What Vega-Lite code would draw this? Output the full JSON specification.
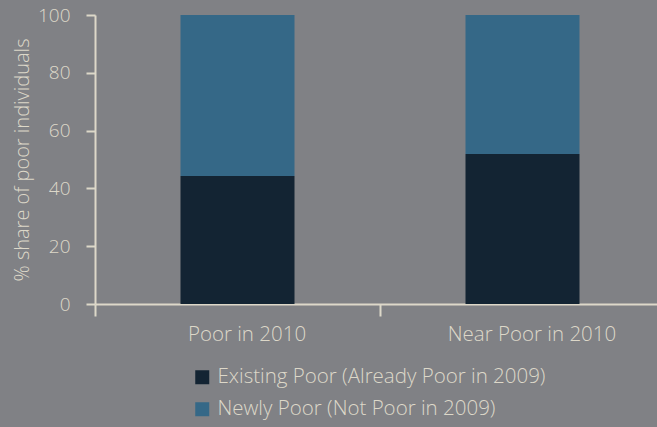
{
  "$schema": "https://vega.github.io/schema/vega-lite/v6.json",
  "autosize": "none",
  "width": 562,
  "height": 289,
  "padding": {"left": 95, "top": 15, "right": 0, "bottom": 123},
  "background": "#808185",
  "config": {
    "view": {"stroke": null},
    "font": "Open Sans",
    "axis": {
      "domainColor": "#ddd8c9",
      "domainWidth": 2,
      "tickColor": "#ddd8c9",
      "tickWidth": 2,
      "labelColor": "#ddd8c9",
      "titleColor": "#ddd8c9",
      "labelFont": "Open Sans",
      "titleFont": "Open Sans",
      "labelFontWeight": 300,
      "titleFontWeight": 300,
      "grid": false
    },
    "legend": {
      "labelColor": "#ddd8c9",
      "labelFont": "Open Sans",
      "labelFontWeight": 300
    }
  },
  "data": {
    "values": [
      {"group": "Poor in 2010", "type": "Existing Poor (Already Poor in 2009)", "value": 44.3, "ord": 1},
      {"group": "Poor in 2010", "type": "Newly Poor (Not Poor in 2009)", "value": 55.7, "ord": 2},
      {"group": "Near Poor in 2010", "type": "Existing Poor (Already Poor in 2009)", "value": 51.9, "ord": 1},
      {"group": "Near Poor in 2010", "type": "Newly Poor (Not Poor in 2009)", "value": 48.1, "ord": 2}
    ]
  },
  "mark": {"type": "bar", "width": {"band": 0.4}},
  "encoding": {
    "x": {
      "field": "group",
      "type": "nominal",
      "sort": ["Poor in 2010", "Near Poor in 2010"],
      "scale": {"range": [0, 570], "paddingInner": 0, "paddingOuter": 0},
      "axis": {
        "title": null,
        "labelAngle": 0,
        "labelFontSize": 20.5,
        "labelOffset": 9,
        "tickBand": "extent",
        "tickSize": 12,
        "labelPadding": 8
      }
    },
    "y": {
      "field": "value",
      "type": "quantitative",
      "stack": "zero",
      "scale": {"domain": [0, 100]},
      "axis": {
        "title": "% share of poor individuals",
        "values": [0, 20, 40, 60, 80, 100],
        "labelFontSize": 19,
        "titleFontSize": 20,
        "tickSize": 9,
        "labelPadding": 16,
        "titlePadding": 5
      }
    },
    "color": {
      "field": "type",
      "type": "nominal",
      "scale": {
        "domain": ["Existing Poor (Already Poor in 2009)", "Newly Poor (Not Poor in 2009)"],
        "range": ["#132433", "#356887"]
      },
      "legend": {
        "title": null,
        "orient": "none",
        "legendX": 97,
        "legendY": 352,
        "symbolType": "square",
        "symbolSize": 196,
        "symbolStrokeWidth": 0,
        "labelFontSize": 20.5,
        "labelOffset": 5,
        "labelLimit": 0,
        "rowPadding": 11
      }
    },
    "order": {"field": "ord", "type": "quantitative"}
  }
}
